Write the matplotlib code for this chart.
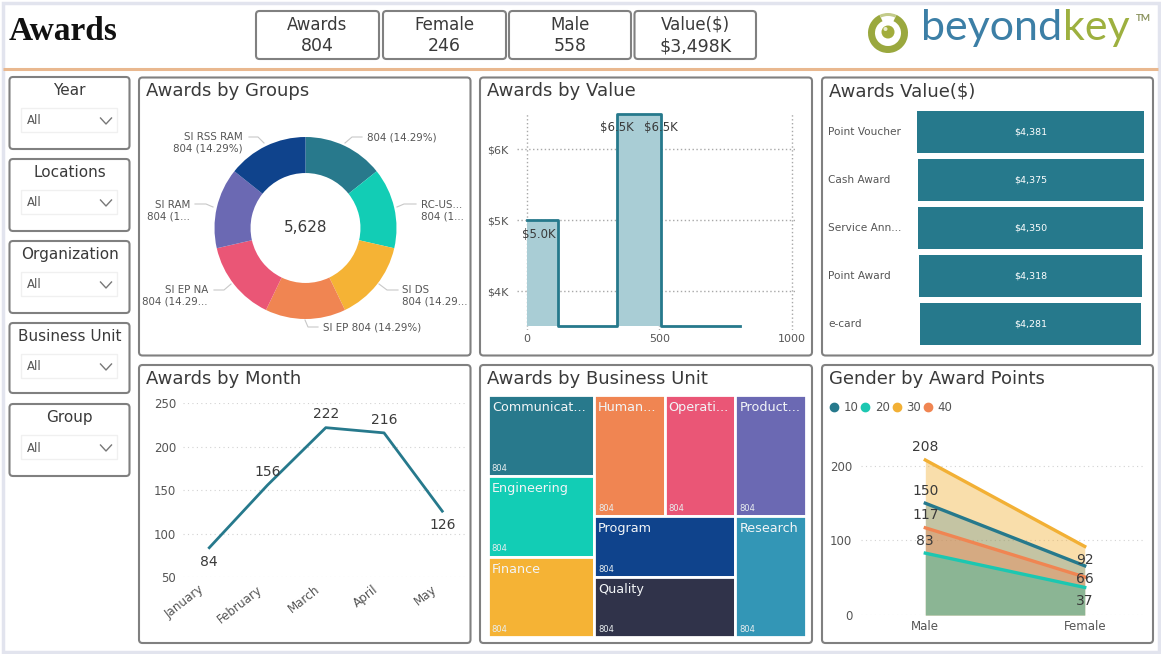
import matplotlib
matplotlib.use("Agg")
import matplotlib.pyplot as plt
from matplotlib.patches import FancyBboxPatch, Rectangle, Circle, Wedge
from matplotlib.lines import Line2D
from matplotlib.transforms import ScaledTranslation

# ---------- data ----------
kpi_names = ["Awards", "Female", "Male", "Value($)"]
kpi_values = ["804", "246", "558", "$3,498K"]
slicer_names = ["Year", "Locations", "Organization", "Business Unit", "Group"]

group_labels = ["804 (14.29%)", "RC-US...\n804 (1...", "SI DS\n804 (14.29...",
                "SI EP 804 (14.29%)", "SI EP NA\n804 (14.29...", "SI RAM\n804 (1...",
                "SI RSS RAM\n804 (14.29%)"]
group_values = [804, 804, 804, 804, 804, 804, 804]

value_edges = [0, 117, 338, 504, 804]
value_levels = [5000, 3500, 6500, 3500, 3500]
value_point_x = [45, 338, 504]
value_point_y = [5000, 6500, 6500]
value_point_labels = ["$5.0K", "$6.5K", "$6.5K"]

award_types = ["Point Voucher", "Cash Award", "Service Ann...", "Point Award", "e-card"]
award_amounts = [4381, 4375, 4350, 4318, 4281]

months = ["January", "February", "March", "April", "May"]
month_counts = [84, 156, 222, 216, 126]

unit_names = ["Communicat...", "Engineering", "Finance", "Human...", "Operati...",
              "Product...", "Program", "Quality", "Research"]
unit_values = [804, 804, 804, 804, 804, 804, 804, 804, 804]

genders = ["Male", "Female"]
points_10 = [150, 66]
points_20 = [83, 37]
points_30 = [208, 92]
points_40 = [117, 51]

# ---------- style ----------
W, H = 1161, 654
TEAL = "#26798C"
TXT = "#3A3A3A"
SOFT = "#555555"
EDGE = "#808080"
GRID = "#D2D2D2"
group_colors = ["#28798C", "#12CDB5", "#F5B335", "#F08552", "#EA5676", "#6B69B3", "#0F438C"]
unit_colors = ["#28798C", "#12CDB5", "#F5B335", "#F08552", "#EA5676", "#6B69B3",
               "#0F438C", "#30334A", "#3396B6"]
series_colors = {"10": "#26798C", "20": "#1CC7B1", "30": "#F2B035", "40": "#F08552"}
series_alpha = {"10": 0.25, "20": 0.40, "30": 0.41, "40": 0.40}

plt.rcParams["font.family"] = ["DejaVu Sans"]
fig = plt.figure(figsize=(W / 100, H / 100), dpi=100, facecolor="white")


def px_axes(x0, y0, x1, y1, **kw):
    a = fig.add_axes([x0 / W, 1 - y1 / H, (x1 - x0) / W, (y1 - y0) / H], **kw)
    a.patch.set_alpha(0)
    return a


bg = fig.add_axes([0, 0, 1, 1], zorder=0)
bg.set_xlim(0, W)
bg.set_ylim(H, 0)
bg.axis("off")


def box(x0, y0, x1, y1, ec=EDGE, lw=1.5, r=3.5):
    bg.add_patch(FancyBboxPatch((x0, y0), x1 - x0, y1 - y0,
                                boxstyle=f"round,pad=0,rounding_size={r}",
                                fc="white", ec=ec, lw=lw))


def style_axes(a):
    for s in a.spines.values():
        s.set_visible(False)
    a.tick_params(length=0)


# outer frame and header
bg.add_patch(Rectangle((2.5, 2.5), W - 5, H - 5, fc="none", ec="#E2E4EE", lw=2.5))
bg.plot([3, W - 3], [69, 69], color="#E9B88F", lw=2.2, solid_capstyle="butt")
bg.text(9, 31, "Awards", family="Liberation Serif", weight="bold", fontsize=24,
        color="#111111", ha="left", va="center")

kpi_x = [(256, 379), (383, 506), (509, 631), (634.5, 756)]
for (x0, x1), n, v in zip(kpi_x, kpi_names, kpi_values):
    box(x0, 11, x1, 59)
    bg.text((x0 + x1) / 2, 25, n, fontsize=12, color=TXT, ha="center", va="center")
    bg.text((x0 + x1) / 2, 46, v, fontsize=12.5, color=TXT, ha="center", va="center")

# logo
bg.add_patch(Wedge((888, 33), 20, 295, 245, width=7, fc="#9AA83E", ec="none"))
bg.add_patch(Wedge((888, 33), 20, 245, 295, width=3, fc="#C3CB8A", ec="none"))
bg.add_patch(Circle((888, 32), 6.5, fc="#A2AD3C", ec="none"))
bg.add_patch(Circle((885.5, 29), 2, fc="#E9ECCB", ec="none"))
bg.text(921, 40, "beyond", family="Lato", fontsize=31, color="#3C7FA6",
        ha="left", va="baseline")
bg.text(1063, 40, "key", family="Lato", fontsize=31, color="#9DB03F",
        ha="left", va="baseline")
bg.text(1143, 18.5, "TM", family="Lato", weight="bold", fontsize=7, color="#8C9460",
        ha="center", va="center")

# slicers
slicer_y = [(77, 149), (159, 231), (241, 313), (323, 393), (404, 476)]
for (y0, y1), n in zip(slicer_y, slicer_names):
    box(9.5, y0, 129.5, y1)
    bg.text(69.5, y0 + 13.5, n, fontsize=11, color=TXT, ha="center", va="center")
    bg.add_patch(Rectangle((21, y0 + 31), 96, 24, fc="white", ec="#F0F0F0", lw=1))
    bg.text(27, y0 + 44, "All", fontsize=8.5, color=SOFT, ha="left", va="center")
    bg.plot([100.5, 106, 111.5], [y0 + 41, y0 + 47, y0 + 41], color="#777777", lw=1)

# panels
panels = [(139, 77.5, 470.5, 355.5, "Awards by Groups"),
          (480, 77.5, 812, 355.5, "Awards by Value"),
          (822, 77.5, 1153, 355.5, "Awards Value($)"),
          (139, 365, 470.5, 643, "Awards by Month"),
          (480, 365, 812, 643, "Awards by Business Unit"),
          (822, 365, 1153, 643, "Gender by Award Points")]
for x0, y0, x1, y1, t in panels:
    box(x0, y0, x1, y1)
    bg.text(x0 + 7, y0 + 14, t, fontsize=13, color=TXT, ha="left", va="center")

# ---------- donut ----------
ax = px_axes(214.5, 137, 396.5, 319, zorder=2)
ax.pie(group_values, colors=group_colors, startangle=90, counterclock=False,
       radius=1, wedgeprops=dict(width=0.396, edgecolor="none"))
ax.set_xlim(-1, 1)
ax.set_ylim(-1, 1)
ax.text(0, 0, f"{sum(group_values):,}", fontsize=11, color=TXT, ha="center", va="center")
label_spots = [(367, 137, "left"), (421, 210.5, "left"), (402, 295.5, "left"),
               (323, 327, "left"), (208, 295.5, "right"), (190, 210.5, "right"),
               (243, 142.5, "right")]
leaders = [[(345, 143), (352, 137), (362, 137)], [(397, 207), (404, 204), (416, 204)],
           [(379, 284), (387, 290), (398, 290)], [(305, 320), (308, 327), (318, 327)],
           [(231, 284), (224, 290), (214, 290)], [(213, 207), (206, 204), (195, 204)],
           [(264, 143), (258, 137), (249, 137)]]
for (x, y, ha), lab, seg in zip(label_spots, group_labels, leaders):
    bg.text(x, y, lab, fontsize=7.4, color=SOFT, ha=ha, va="center", linespacing=1.15)
    bg.plot(*zip(*seg), color="#C8C8C8", lw=0.8)

# ---------- awards by value ----------
ax = px_axes(517, 114, 797, 330, zorder=2)
ax.set_xlim(-37.7, 1019)
ax.set_ylim(3450, 6500)
style_axes(ax)
ax.set_xticks([0, 500, 1000], ["0", "500", "1000"])
ax.set_yticks([4000, 5000, 6000], ["$4K", "$5K", "$6K"])
ax.tick_params(axis="both", labelsize=8, labelcolor=SOFT)
ax.tick_params(axis="x", pad=3)
ax.tick_params(axis="y", pad=6)
ax.grid(True, linestyle=(0, (1, 1.8)), color="#A8A8A8", lw=1)
ax.set_axisbelow(True)
ax.fill_between(value_edges, value_levels, 3500, step="post", color="#A9CDD5", lw=0, zorder=2)
ax.step(value_edges, value_levels, where="post", color=TEAL, lw=2, clip_on=False, zorder=3)
for x, y, t in zip(value_point_x, value_point_y, value_point_labels):
    ax.annotate(t, (x, y), xytext=(0, -10), textcoords="offset points",
                fontsize=8.5, color=TXT, ha="center", va="center", zorder=4)

# ---------- awards value funnel ----------
ax = px_axes(917.4, 108, 1144, 348, zorder=2)
half = max(award_amounts) / 2
ax.set_xlim(-half, half)
ax.set_ylim(len(award_types) - 0.5, -0.5)
ax.axis("off")
ypos = list(range(len(award_types)))
ax.barh(ypos, award_amounts, left=[-v / 2 for v in award_amounts], height=0.875, color=TEAL, lw=0)
for i, (name, v) in enumerate(zip(award_types, award_amounts)):
    ax.text(0, i, f"${v:,}", fontsize=6.8, color="white", ha="center", va="center")
    bg.text(828, 132 + 48 * i, name, fontsize=7.6, color=SOFT, ha="left", va="center")

# ---------- awards by month ----------
ax = px_axes(183, 403.3, 465, 577.3, zorder=2)
xp = list(range(len(months)))
ax.set_xlim(-0.451, 4.39)
ax.set_ylim(50, 250)
style_axes(ax)
ax.set_yticks([50, 100, 150, 200, 250])
ax.tick_params(axis="y", labelsize=8.5, labelcolor=SOFT, pad=5)
ax.grid(True, axis="y", linestyle=(0, (1, 3)), color=GRID, lw=0.8)
ax.set_axisbelow(True)
ax.plot(xp, month_counts, color=TEAL, lw=2, clip_on=False)
ax.set_xticks(xp, months)
ax.tick_params(axis="x", labelsize=8.6, labelcolor=SOFT, pad=4)
shift = ScaledTranslation(-11 / 100, 0, fig.dpi_scale_trans)
for lab in ax.get_xticklabels():
    lab.set_rotation(38)
    lab.set_ha("right")
    lab.set_rotation_mode("anchor")
    lab.set_transform(lab.get_transform() + shift)
for i, (x, y) in enumerate(zip(xp, month_counts)):
    below = i in (0, len(xp) - 1)
    ax.annotate(str(y), (x, y), xytext=(0, -10 if below else 9.5), textcoords="offset points",
                fontsize=10, color=TXT, ha="center", va="center", annotation_clip=False)

# ---------- treemap ----------
ax = px_axes(487.7, 395, 806, 637.3, zorder=2)
ax.set_xlim(0, 1)
ax.set_ylim(1, 0)
ax.axis("off")
total = sum(unit_values)
rects = []
col = sum(unit_values[:3]) / total


def stack(vals, x, y, w, h, vertical=True):
    s = sum(vals)
    out = []
    for v in vals:
        if vertical:
            out.append((x, y, w, h * v / s))
            y += h * v / s
        else:
            out.append((x, y, w * v / s, h))
            x += w * v / s
    return out


rects += stack(unit_values[:3], 0, 0, col, 1)
rest = 1 - col
top_h = sum(unit_values[3:6]) / sum(unit_values[3:])
rects += stack(unit_values[3:6], col, 0, rest, top_h, vertical=False)
pair_w = rest * sum(unit_values[6:8]) / sum(unit_values[6:])
rects += stack(unit_values[6:8], col, top_h, pair_w, 1 - top_h)
rects += stack(unit_values[8:], col + pair_w, top_h, rest - pair_w, 1 - top_h)
for (x, y, w, h), c, n, v in zip(rects, unit_colors, unit_names, unit_values):
    ax.add_patch(Rectangle((x, y), w, h, fc=c, ec="white", lw=2))
    ax.annotate(n, (x, y), xytext=(3, -9), textcoords="offset points", fontsize=9.2,
                color="#F2F5F7", ha="left", va="center", annotation_clip=False)
    ax.annotate(str(v), (x, y + h), xytext=(3, 5.5), textcoords="offset points", fontsize=6,
                color="#E8EEF0", ha="left", va="center", annotation_clip=False)

# ---------- gender area ----------
ax = px_axes(860.5, 443.6, 1145, 615, zorder=2)
gx = list(range(len(genders)))
ax.set_xlim(-0.4065, 1.378)
ax.set_ylim(0, 230)
style_axes(ax)
ax.set_yticks([0, 100, 200])
ax.set_xticks(gx, genders)
ax.tick_params(axis="both", labelsize=8.5, labelcolor=SOFT)
ax.tick_params(axis="x", pad=3.5)
ax.tick_params(axis="y", pad=6)
ax.grid(True, axis="y", linestyle=(0, (1, 3)), color=GRID, lw=0.8)
ax.set_axisbelow(True)
legend_series = [("10", points_10), ("20", points_20), ("30", points_30), ("40", points_40)]
draw_order = [("30", points_30), ("10", points_10), ("40", points_40), ("20", points_20)]
for name, vals in draw_order:
    ax.fill_between(gx, vals, 0, color=series_colors[name], alpha=series_alpha[name], lw=0, zorder=2)
for name, vals in draw_order:
    ax.plot(gx, vals, color=series_colors[name], lw=2.4, zorder=3)
for name, vals in legend_series:
    ax.annotate(str(vals[0]), (0, vals[0]), xytext=(0, 9), textcoords="offset points",
                fontsize=10, color=TXT, ha="center", va="center", zorder=5)
    if name != "40":
        ax.annotate(str(vals[1]), (1, vals[1]), xytext=(0, -9.7), textcoords="offset points",
                    fontsize=10, color=TXT, ha="center", va="center", zorder=5)
handles = [Line2D([], [], ls="", marker="o", ms=6, color=series_colors[n]) for n, _ in legend_series]
fig.legend(handles, [n for n, _ in legend_series], loc="center left",
           bbox_to_anchor=(827 / W, 1 - 407.5 / H), ncol=4, frameon=False, fontsize=8.5,
           labelcolor=SOFT, handletextpad=0.2, columnspacing=0.0, handlelength=1.2,
           borderpad=0, borderaxespad=0)

fig.savefig("out.png", dpi=100)
